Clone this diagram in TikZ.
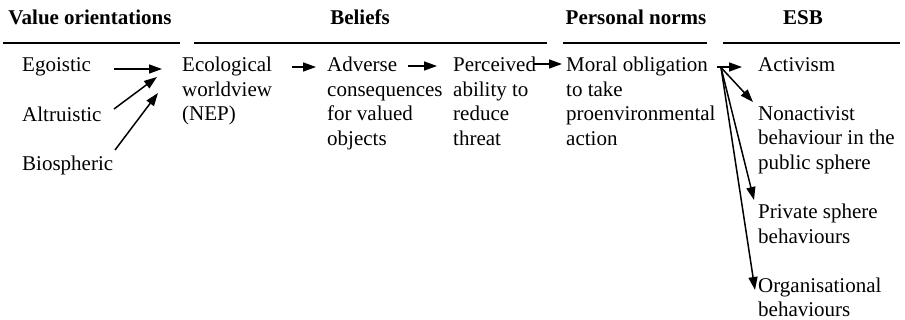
\documentclass[tikz,border=0pt]{standalone}
\usepackage{fontspec}
\setmainfont{Liberation Serif}
\usetikzlibrary{arrows.meta}

\begin{document}
\begin{tikzpicture}[x=1pt,y=-1pt,font=\fontsize{21}{24.5}\selectfont,>={Triangle[length=13pt,width=9pt]},
  txt/.style={anchor=north west,align=left,inner sep=0pt},
  head/.style={anchor=base,inner sep=0pt,font=\fontsize{21}{24.5}\selectfont\bfseries},
  link/.style={->,line width=1.5pt}]
\useasboundingbox (0,0) rectangle (905,320);
% headings and rules
\node[head] (hval) at (90,25) {Value orientations};
\node[head] (hbel) at (360,25) {Beliefs};
\node[head] (hnorm) at (636,25) {Personal norms};
\node[head] (hesb) at (803,25) {ESB};
\foreach \a/\b in {3/180,194/547,563/707,723/900}
  \draw[line width=1.6pt] (\a,43) -- (\b,43);
% value orientations
\foreach \n/\y/\t in {ego/57/Egoistic,alt/106.5/Altruistic,bio/155.5/Biospheric}
  \node[txt] (\n) at (22,\y) {\t};
% beliefs and norms
\node[txt] (nep) at (182,57) {Ecological\\worldview\\(NEP)};
\node[txt] (adverse) at (327,57) {Adverse\\consequences\\for valued\\objects};
\node[txt] (ability) at (453,57) {Perceived\\ability to\\reduce\\threat};
\node[txt] (moral) at (566,57) {Moral obligation\\to take\\proenvironmental\\action};
% behaviours
\foreach \n/\y/\t in {activism/57/Activism,nonact/106/{Nonactivist\\behaviour in the\\public sphere},private/204/{Private sphere\\behaviours},organ/277.5/{Organisational\\behaviours}}
  \node[txt] (\n) at (758,\y) {\t};
\draw[link] ([shift={(92,12)}]ego.north west) -- ([shift={(-20,12)}]nep.north west);
\draw[link] ([shift={(92,2.5)}]alt.north west) -- ([shift={(-25,20)}]nep.north west);
\draw[link] ([shift={(93,-5.5)}]bio.north west) -- ([shift={(-24,36)}]nep.north west);
\draw[link] ([shift={(110,10)}]nep.north west) -- ([shift={(-11,10)}]adverse.north west);
\draw[link] ([shift={(81,9)}]adverse.north west) -- ([shift={(-16,9)}]ability.north west);
\draw[link] ([shift={(80,7)}]ability.north west) -- ([shift={(-4,7)}]moral.north west);
\draw[link] ([shift={(151,10)}]moral.north west) -- ([shift={(-16,10)}]activism.north west);
\coordinate (split) at ([shift={(-37,10.5)}]activism.north west);
\draw[link] (split) -- ([shift={(-5,-4)}]nonact.north west);
\draw[link] (split) -- ([shift={(-4,-4)}]private.north west);
\draw[link] (split) -- ([shift={(-3,12.5)}]organ.north west);
\end{tikzpicture}
\end{document}
